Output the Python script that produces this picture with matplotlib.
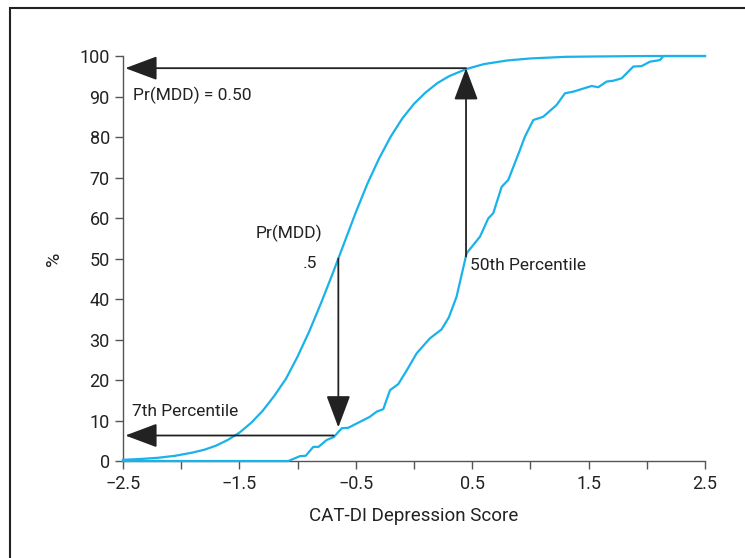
import matplotlib
matplotlib.use('Agg')
import matplotlib.pyplot as plt
from matplotlib.patches import Rectangle, ArrowStyle
from matplotlib.ticker import MultipleLocator

# Probabilidad de MDD (curva suave)
x_prob = [-2.5, -2.35, -2.2, -2.05, -1.9, -1.8, -1.7, -1.6, -1.5, -1.4, -1.3,
          -1.2, -1.1, -1.0, -0.9, -0.8, -0.7, -0.6, -0.5, -0.4, -0.3, -0.2,
          -0.1, 0.0, 0.1, 0.2, 0.3, 0.45, 0.6, 0.8, 1.0, 1.3, 1.6, 2.0, 2.5]
y_prob = [0.3, 0.5, 0.8, 1.3, 2.1, 2.8, 3.8, 5.2, 7.0, 9.4, 12.4,
          16.1, 20.3, 25.8, 32.0, 38.9, 46.2, 53.8, 61.4, 68.5, 74.7, 80.1,
          84.6, 88.2, 91.0, 93.3, 95.0, 96.8, 98.0, 98.9, 99.4, 99.8, 99.9, 100.0, 100.0]

# Percentiles (curva empírica)
x_pct = [-2.5, -1.08, -0.98, -0.93, -0.865, -0.82, -0.75, -0.69, -0.62, -0.565,
         -0.49, -0.38, -0.32, -0.264, -0.206, -0.135, -0.06, 0.023, 0.137, 0.237,
         0.3, 0.366, 0.452, 0.567, 0.638, 0.681, 0.753, 0.81, 0.91, 0.953,
         1.025, 1.11, 1.225, 1.297, 1.368, 1.526, 1.583, 1.655, 1.712, 1.784,
         1.884, 1.955, 2.027, 2.113, 2.142, 2.5]
y_pct = [0.0, 0.0, 1.2, 1.3, 3.5, 3.5, 5.2, 5.9, 8.1, 8.2,
         9.3, 10.9, 12.2, 12.8, 17.5, 19.0, 22.5, 26.6, 30.3, 32.5,
         35.5, 40.6, 51.3, 55.4, 59.9, 61.2, 67.7, 69.4, 76.8, 80.1,
         84.2, 85.0, 87.9, 90.8, 91.2, 92.6, 92.3, 93.7, 93.9, 94.5,
         97.4, 97.5, 98.6, 99.0, 100.0, 100.0]

xticks = [-2.5, -1.5, -0.5, 0.5, 1.5, 2.5]
yticks = list(range(0, 101, 10))

cyan = '#1ab2ea'
dark = '#222222'
plt.rcParams['font.family'] = ['Roboto', 'DejaVu Sans']

fig = plt.figure(figsize=(7.45, 5.58), dpi=100)
ax = fig.add_axes([0.1651, 0.1738, 0.9463 - 0.1651, 0.8996 - 0.1738])

# marco exterior
fig.patches.append(Rectangle((10 / 745, -0.1), 1.2, 1.1 - 8 / 558,
                             transform=fig.transFigure, fill=False,
                             edgecolor='#222222', linewidth=1.5))

ax.plot(x_prob, y_prob, color=cyan, lw=1.6, clip_on=False, zorder=3)
ax.plot(x_pct, y_pct, color=cyan, lw=1.6, clip_on=False, zorder=3)

estilo = ArrowStyle('-|>', head_length=2.0, head_width=0.75)
flechas = [((0.447, 97.0), (-2.48, 97.0)),
           ((0.447, 50.5), (0.447, 97.0)),
           ((-0.65, 50.0), (-0.65, 8.3)),
           ((-0.69, 6.3), (-2.48, 6.3))]
for ini, fin in flechas:
    ax.annotate('', xy=fin, xytext=ini,
                arrowprops=dict(arrowstyle=estilo, color=dark, lw=1.3,
                                mutation_scale=10, shrinkA=0, shrinkB=0),
                annotation_clip=False, zorder=4)

fs = 13
ft = 12.5
ax.text(-2.414, 90.3, 'Pr(MDD) = 0.50', fontsize=ft, color=dark, va='center', ha='left')
ax.text(-0.784, 56.3, 'Pr(MDD)', fontsize=ft, color=dark, va='center', ha='right')
ax.text(-0.83, 48.8, '.5', fontsize=ft, color=dark, va='center', ha='right')
ax.text(0.481, 48.4, '50th Percentile', fontsize=ft, color=dark, va='center', ha='left')
ax.text(-2.425, 12.2, '7th Percentile', fontsize=ft, color=dark, va='center', ha='left')

ax.set_xlim(-2.5, 2.5)
ax.set_ylim(0, 100)
ax.set_xticks(xticks)
ax.xaxis.set_minor_locator(MultipleLocator(1.0))
ax.set_yticks(yticks)
ax.tick_params(axis='both', which='both', direction='out', length=6, width=1,
               color='#555555', labelsize=fs, labelcolor=dark)
ax.tick_params(axis='x', pad=4)
for s in ['top', 'right']:
    ax.spines[s].set_visible(False)
for s in ['left', 'bottom']:
    ax.spines[s].set_color('#555555')
    ax.spines[s].set_linewidth(1.0)

ax.set_xlabel('CAT-DI Depression Score', fontsize=13.5, color=dark, labelpad=10)
ax.set_ylabel('%', fontsize=14, color=dark, labelpad=12)

fig.savefig('out.png', dpi=100)
